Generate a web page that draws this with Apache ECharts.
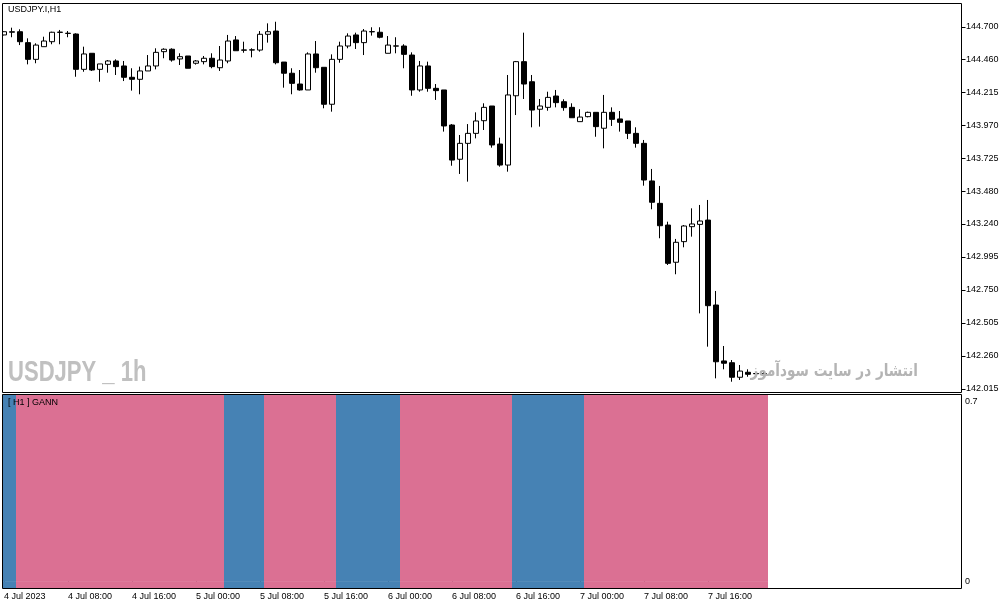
<!DOCTYPE html>
<html><head><meta charset="utf-8">
<script src="https://cdn.jsdelivr.net/npm/echarts@6/dist/echarts.min.js"></script>
<style>html,body{margin:0;padding:0;background:#fff}#c{width:1008px;height:609px}</style>
</head><body><div id="c"></div>
<script>
// ---- data ----
const tickLabels = ['4 Jul 2023','4 Jul 08:00','4 Jul 16:00','5 Jul 00:00','5 Jul 08:00','5 Jul 16:00','6 Jul 00:00','6 Jul 08:00','6 Jul 16:00','7 Jul 00:00','7 Jul 08:00','7 Jul 16:00'];
const priceTicks = [142.015,142.260,142.505,142.750,142.995,143.240,143.480,143.725,143.970,144.215,144.460,144.700];
const gannTicks = [0, 0.7];

const opens = [144.641,144.661,144.665,144.584,144.460,144.554,144.591,144.660,144.652,144.648,
144.386,144.505,144.386,144.423,144.448,144.411,144.327,144.312,144.374,144.411,
144.517,144.535,144.463,144.485,144.431,144.443,144.468,144.398,144.448,144.604,
144.530,144.529,144.529,144.646,144.670,144.440,144.357,144.277,144.233,144.500,
144.401,144.127,144.460,144.559,144.641,144.584,144.664,144.661,144.505,144.558,
144.559,144.492,144.233,144.411,144.245,144.233,143.973,143.719,143.837,143.911,
144.005,144.114,143.832,143.676,144.190,144.443,144.294,144.090,144.104,144.188,
144.146,144.104,143.998,144.035,144.067,143.949,144.067,144.018,144.003,143.911,
143.837,143.558,143.392,143.231,142.955,143.108,143.219,143.236,143.268,142.638,
142.223,142.210,142.102,142.139,142.130,142.128];
const closes = [144.665,144.665,144.591,144.460,144.566,144.596,144.661,144.662,144.654,144.386,
144.500,144.381,144.426,144.448,144.406,144.327,144.312,144.374,144.411,144.512,
144.535,144.455,144.480,144.394,144.448,144.468,144.406,144.455,144.596,144.524,
144.528,144.531,144.646,144.665,144.435,144.357,144.282,144.233,144.500,144.398,
144.127,144.460,144.559,144.633,144.584,144.670,144.666,144.624,144.566,144.560,
144.497,144.233,144.411,144.245,144.228,143.966,143.713,143.837,143.911,144.003,
144.104,143.825,143.676,144.196,144.443,144.277,144.084,144.114,144.178,144.139,
144.102,144.027,144.032,144.067,143.961,144.067,144.015,143.993,143.911,143.837,
143.565,143.400,143.226,142.947,143.103,143.224,143.239,143.261,142.633,142.217,
142.206,142.102,142.148,142.124,142.128,142.126];
const highs = [144.668,144.695,144.683,144.616,144.579,144.628,144.665,144.678,144.670,144.653,
144.554,144.505,144.426,144.455,144.460,144.448,144.394,144.406,144.492,144.542,
144.542,144.542,144.505,144.485,144.455,144.485,144.505,144.559,144.641,144.633,
144.591,144.542,144.670,144.727,144.739,144.440,144.394,144.381,144.512,144.596,
144.401,144.497,144.591,144.653,144.658,144.685,144.698,144.698,144.633,144.624,
144.572,144.512,144.448,144.443,144.277,144.233,143.980,143.899,143.980,144.067,
144.134,144.114,143.879,144.344,144.448,144.658,144.344,144.166,144.220,144.233,
144.164,144.134,144.090,144.072,144.067,144.196,144.104,144.077,144.003,143.956,
143.862,143.647,143.521,143.256,143.128,143.231,143.355,143.380,143.417,142.742,
142.334,142.230,142.193,142.161,142.140,142.150];
const lows = [144.638,144.624,144.566,144.423,144.431,144.554,144.572,144.572,144.624,144.331,
144.368,144.374,144.294,144.361,144.344,144.299,144.228,144.201,144.374,144.386,
144.468,144.443,144.418,144.394,144.421,144.423,144.394,144.374,144.431,144.524,
144.509,144.475,144.517,144.584,144.423,144.250,144.201,144.228,144.233,144.361,
144.097,144.072,144.435,144.542,144.537,144.492,144.636,144.616,144.505,144.505,
144.394,144.190,144.220,144.220,144.159,143.924,143.671,143.610,143.553,143.874,
143.936,143.805,143.664,143.627,144.047,144.166,143.956,143.961,144.079,144.104,
144.079,144.027,143.998,144.030,143.886,143.800,143.966,143.924,143.869,143.805,
143.523,143.348,143.133,142.935,142.866,143.066,143.145,142.576,142.329,142.094,
142.161,142.069,142.082,142.106,142.118,142.112];
// GANN histogram state per bar: 1 = up (blue), -1 = down (pink)
const gannTrend = [
 1, 1,-1,-1,-1,-1,-1,-1,
-1,-1,-1,-1,-1,-1,-1,-1,
-1,-1,-1,-1,-1,-1,-1,-1,
-1,-1,-1,-1, 1, 1, 1, 1,
 1,-1,-1,-1,-1,-1,-1,-1,
-1,-1, 1, 1, 1, 1, 1, 1,
 1, 1,-1,-1,-1,-1,-1,-1,
-1,-1,-1,-1,-1,-1,-1,-1,
 1, 1, 1, 1, 1, 1, 1, 1,
 1,-1,-1,-1,-1,-1,-1,-1,
-1,-1,-1,-1,-1,-1,-1,-1,
-1,-1,-1,-1,-1,-1,-1,-1];

// ---- build ----
const TOTAL_SLOTS = 120;
const cats = [];
for (let i = 0; i < TOTAL_SLOTS; i++) cats.push('h' + i);
const BLUE = '#4682B4', PINK = '#DB7093';
const FONT = "'Liberation Sans', Arial, sans-serif";
const showTick = (idx) => idx % 8 === 0 && idx / 8 < tickLabels.length;

const chart = echarts.init(document.getElementById('c'), null, {renderer: 'canvas'});
chart.setOption({
  animation: false,
  backgroundColor: '#fff',
  grid: [
    {left: 0, width: 960, top: 3, height: 389.5},
    {left: 0, width: 960, top: 394.5, height: 193.5}
  ],
  xAxis: [
    {type: 'category', gridIndex: 0, data: cats, show: false, boundaryGap: true},
    {type: 'category', gridIndex: 1, data: cats, boundaryGap: true,
     axisLine: {show: false},
     axisTick: {show: true, alignWithLabel: true, interval: (idx) => showTick(idx), length: 4, lineStyle: {color: '#000'}},
     axisLabel: {interval: (idx) => showTick(idx), formatter: (v, idx) => tickLabels[idx / 8] || '',
       align: 'left', margin: 4, fontSize: 9, fontFamily: FONT, color: '#000', hideOverlap: false}
    }
  ],
  yAxis: [
    {type: 'value', gridIndex: 0, position: 'right', offset: 2, min: 141.989, max: 144.878,
     axisLine: {show: false}, splitLine: {show: false},
     axisTick: {show: true, length: 3.5, customValues: priceTicks, lineStyle: {color: '#000'}},
     axisLabel: {customValues: priceTicks, formatter: (v) => v.toFixed(3), margin: 4,
       fontSize: 9, fontFamily: FONT, color: '#000'}
    },
    {type: 'value', gridIndex: 1, position: 'right', offset: 2, min: -0.027, max: 0.727,
     axisLine: {show: false}, splitLine: {show: false},
     axisTick: {show: false},
     axisLabel: {customValues: gannTicks, formatter: (v) => v === 0 ? '0' : v.toFixed(1), margin: 3,
       fontSize: 9, fontFamily: FONT, color: '#000'}
    }
  ],
  series: [
    {type: 'candlestick', xAxisIndex: 0, yAxisIndex: 0, barWidth: 5,
     data: opens.map((o, i) => [o, closes[i], lows[i], highs[i]]),
     itemStyle: {color: '#fff', color0: '#000', borderColor: '#000', borderColor0: '#000', borderColorDoji: '#000', borderWidth: 1}
    },
    {type: 'bar', name: 'GANN', xAxisIndex: 1, yAxisIndex: 1, barCategoryGap: '0%', barGap: '-100%',
     data: gannTrend.map(t => ({value: 1, itemStyle: {color: t > 0 ? BLUE : PINK}}))
    },
    {type: 'bar', name: 'GANN base', xAxisIndex: 1, yAxisIndex: 1, barCategoryGap: '0%', barGap: '-100%',
     data: gannTrend.map(t => ({value: -1, itemStyle: {color: t > 0 ? BLUE : PINK}}))
    }
  ],
  graphic: [
    {type: 'rect', z: 100, shape: {x: 0, y: 0, width: 2, height: 609}, style: {fill: '#fff'}},
    {type: 'rect', z: 101, shape: {x: 2.5, y: 3.5, width: 959, height: 389}, style: {fill: 'none', stroke: '#000', lineWidth: 1}},
    {type: 'rect', z: 101, shape: {x: 2.5, y: 394.5, width: 959, height: 194}, style: {fill: 'none', stroke: '#000', lineWidth: 1}},
    {type: 'text', z: 102, x: 8, y: 10, style: {text: 'USDJPY.I,H1', fontSize: 9, fontFamily: FONT, fill: '#000', align: 'left', verticalAlign: 'middle'}},
    {type: 'text', z: 102, x: 8, y: 403, style: {text: '[ H1 ] GANN', fontSize: 9, fontFamily: FONT, fill: '#000', align: 'left', verticalAlign: 'middle'}},
    {type: 'text', z: 102, x: 8, y: 373, scaleX: 0.735, style: {text: 'USDJPY _ 1h', fontSize: 30, fontWeight: 'bold', fontFamily: FONT, fill: '#c0c0c0', align: 'left', verticalAlign: 'middle'}},
    {type: 'text', z: 102, x: 918, y: 372, scaleX: 0.8, style: {text: 'انتشار در سایت سودآموز', fontSize: 17, fontWeight: 'bold', fontFamily: "'DejaVu Sans', sans-serif", fill: '#b4b4b4', align: 'right', verticalAlign: 'middle'}}
  ]
});
</script>
</body></html>
